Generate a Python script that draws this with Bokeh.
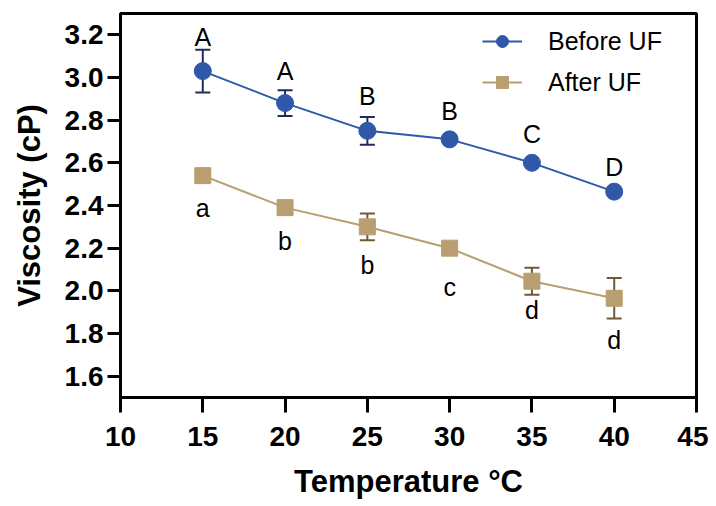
from bokeh.plotting import figure
from bokeh.models import ColumnDataSource, Whisker, TeeHead, FixedTicker, PrintfTickFormatter, Legend, LegendItem, Range1d
from bokeh.core.properties import value
from bokeh.embed import file_html
from bokeh.resources import INLINE

temps = [15, 20, 25, 30, 35, 40]
before_uf = [3.03, 2.88, 2.75, 2.71, 2.60, 2.465]
before_err = [0.10, 0.06, 0.065, 0.0, 0.0, 0.0]
after_uf = [2.54, 2.39, 2.30, 2.20, 2.045, 1.965]
after_err = [0.0, 0.0, 0.063, 0.0, 0.063, 0.095]
before_letters = ["A", "A", "B", "B", "C", "D"]
after_letters = ["a", "b", "b", "c", "d", "d"]
before_letter_y = [3.19, 3.03, 2.915, 2.845, 2.735, 2.58]
after_letter_y = [2.39, 2.235, 2.12, 2.02, 1.91, 1.77]
x_ticks = [10, 15, 20, 25, 30, 35, 40, 45]
y_ticks = [1.6, 1.8, 2.0, 2.2, 2.4, 2.6, 2.8, 3.0, 3.2]

BLUE = "#2F58A8"
TAN = "#B89E70"
FONT = "Liberation Sans"

p = figure(width=708, height=502, output_backend="svg", toolbar_location=None,
           x_range=Range1d(10, 45), y_range=Range1d(1.5, 3.3),
           min_border_left=120, min_border_right=12, min_border_top=13, min_border_bottom=105)
p.xgrid.visible = False
p.ygrid.visible = False
p.outline_line_color = "black"
p.outline_line_width = 3
p.outline_line_alpha = 1

for ax in (p.xaxis[0], p.yaxis[0]):
    ax.axis_line_width = 3
    ax.major_tick_line_width = 3
    ax.minor_tick_line_color = None
    ax.major_tick_in = 0
    ax.major_label_text_font = FONT
    ax.major_label_text_font_style = "bold"
    ax.major_label_text_font_size = "28px"
    ax.major_label_text_color = "black"
    ax.axis_label_text_font = FONT
    ax.axis_label_text_font_style = "bold"
    ax.axis_label_text_font_size = "31px"
    ax.axis_label_text_color = "black"
    ax.axis_line_color = "black"
    ax.major_tick_line_color = "black"

p.xaxis.ticker = FixedTicker(ticks=x_ticks)
p.yaxis.ticker = FixedTicker(ticks=y_ticks)
p.yaxis.formatter = PrintfTickFormatter(format="%.1f")
p.xaxis.major_tick_out = 15
p.yaxis.major_tick_out = 13
p.xaxis.major_label_standoff = 14
p.yaxis.major_label_standoff = 4
p.xaxis.axis_label = "Temperature °C"
p.yaxis.axis_label = "Viscosity (cP)"
p.xaxis.axis_label_standoff = 15
p.yaxis.axis_label_standoff = 15

src_b = ColumnDataSource(dict(x=temps, y=before_uf,
                              lo=[v - e for v, e in zip(before_uf, before_err)],
                              hi=[v + e for v, e in zip(before_uf, before_err)],
                              t=before_letters, ty=before_letter_y))
src_a = ColumnDataSource(dict(x=temps, y=after_uf,
                              lo=[v - e for v, e in zip(after_uf, after_err)],
                              hi=[v + e for v, e in zip(after_uf, after_err)],
                              t=after_letters, ty=after_letter_y))

p.add_layout(Whisker(base="x", lower="lo", upper="hi", source=src_b, line_color="#1E2D5C", line_width=2,
                     upper_head=TeeHead(size=15, line_color="#1E2D5C", line_width=2),
                     lower_head=TeeHead(size=15, line_color="#1E2D5C", line_width=2)))
p.add_layout(Whisker(base="x", lower="lo", upper="hi", source=src_a, line_color="#6E5A38", line_width=2,
                     upper_head=TeeHead(size=15, line_color="#6E5A38", line_width=2),
                     lower_head=TeeHead(size=15, line_color="#6E5A38", line_width=2)))

lb = p.line("x", "y", source=src_b, line_color=BLUE, line_width=2)
sb = p.scatter("x", "y", source=src_b, marker="circle", size=17, fill_color=BLUE, line_color=BLUE)
la = p.line("x", "y", source=src_a, line_color=TAN, line_width=2)
sa = p.scatter("x", "y", source=src_a, marker="square", size=16, fill_color=TAN, line_color=TAN)

for src in (src_b, src_a):
    p.text("x", "ty", text="t", source=src, text_font=value(FONT), text_font_size="25px",
           text_align="center", text_baseline="middle", text_color="black")

legend = Legend(items=[LegendItem(label="Before UF", renderers=[lb, sb]),
                       LegendItem(label="After UF", renderers=[la, sa])],
                location=(362, 300))
legend.border_line_color = None
legend.background_fill_alpha = 0
legend.label_text_font = FONT
legend.label_text_font_size = "25px"
legend.label_text_color = "black"
legend.glyph_width = 40
legend.glyph_height = 30
legend.label_height = 30
legend.label_standoff = 26
legend.spacing = 11
legend.padding = 0
legend.margin = 0
p.add_layout(legend)

open("out.html", "w").write(file_html(p, INLINE))
